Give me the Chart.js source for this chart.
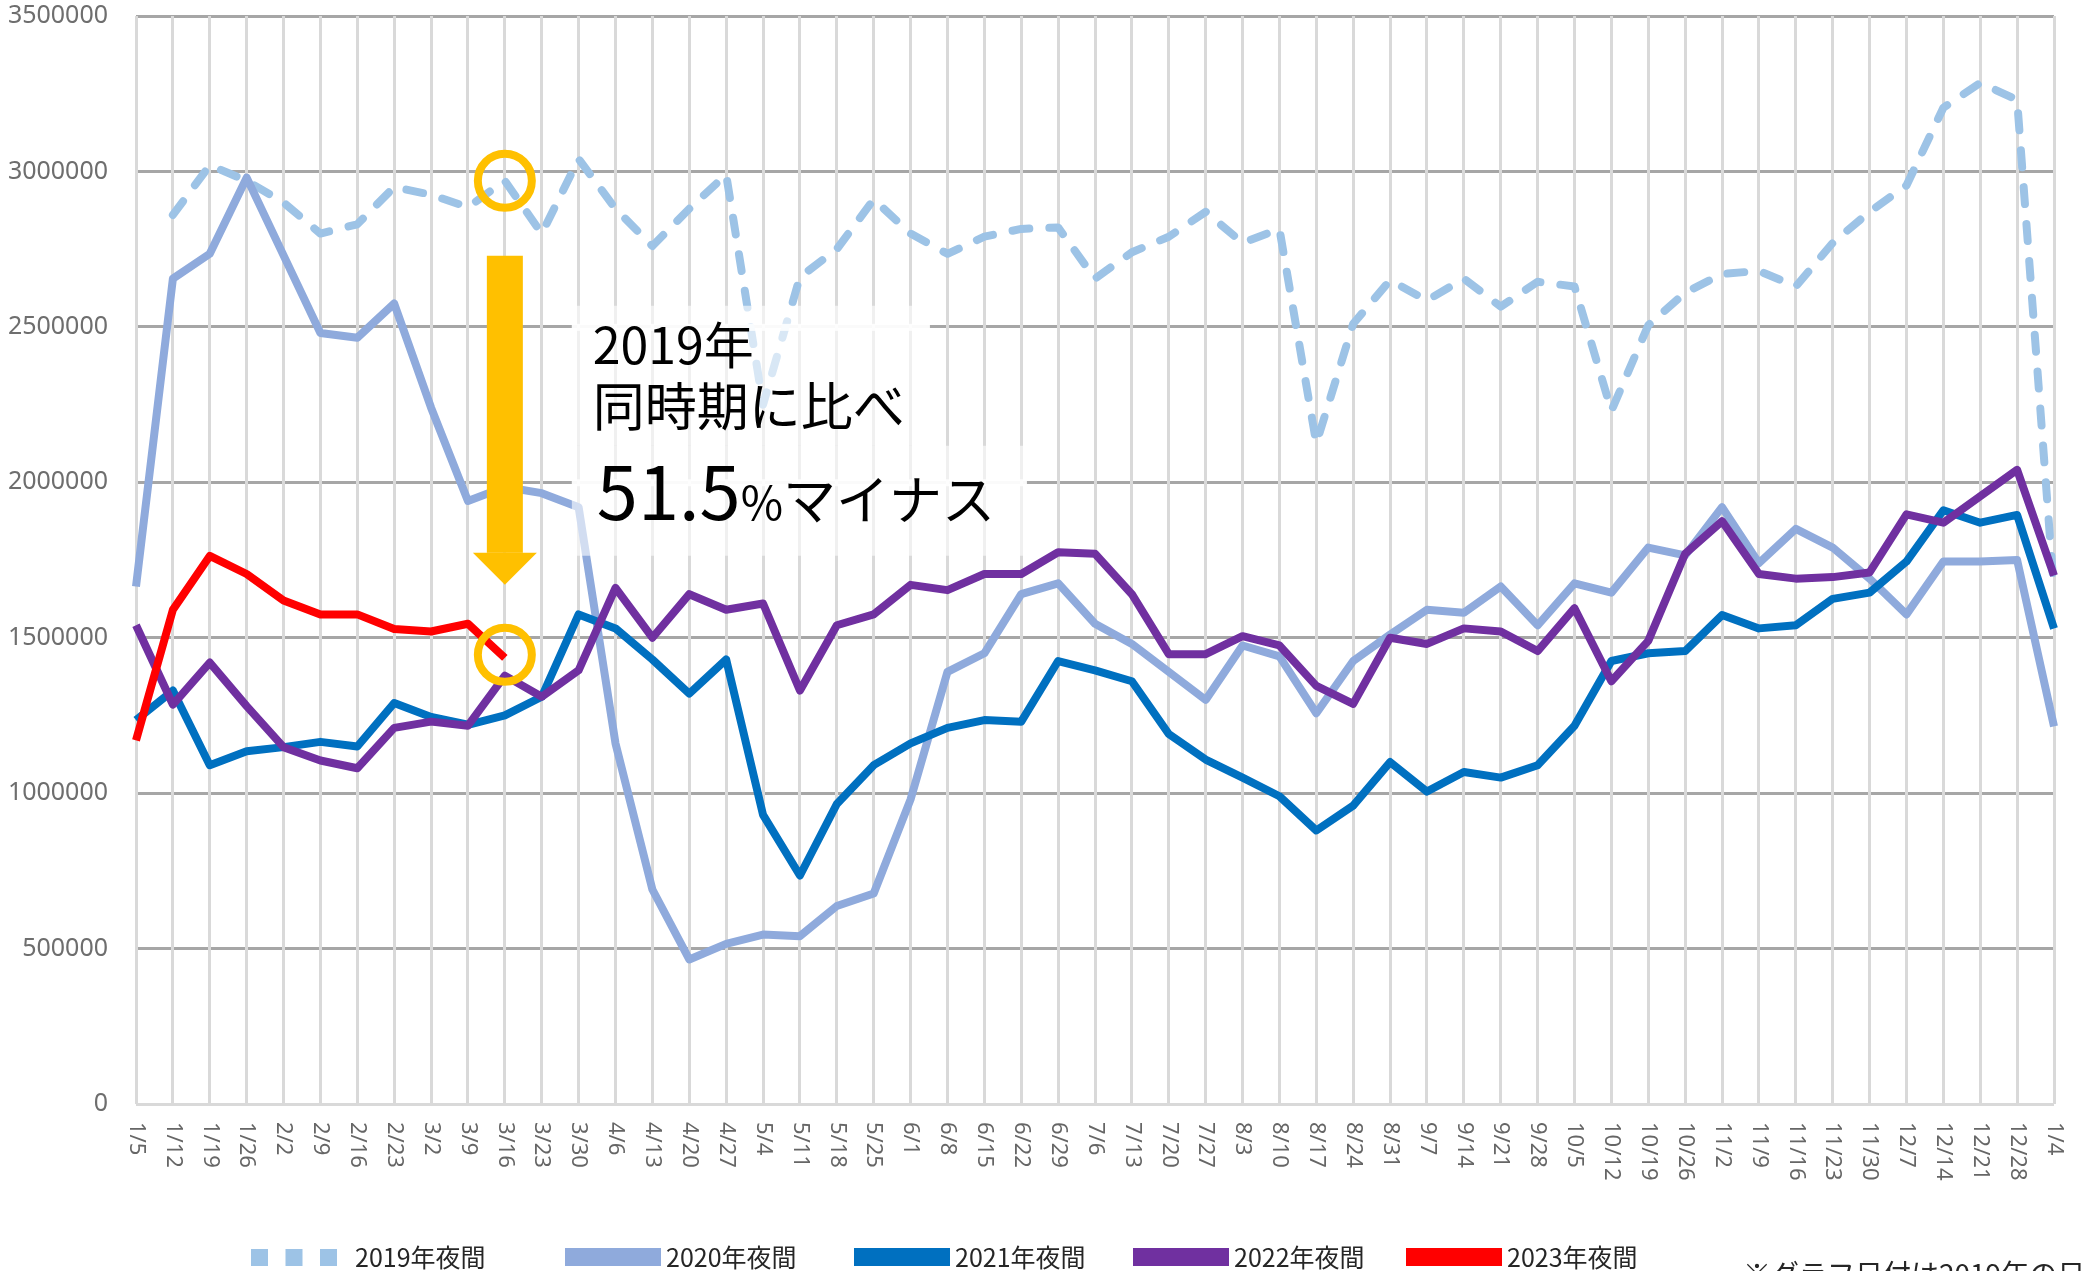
<!DOCTYPE html>
<html lang="ja">
<head>
<meta charset="utf-8">
<title>夜間人口の推移</title>
<script src="https://cdn.jsdelivr.net/npm/chart.js@4.4.1/dist/chart.umd.min.js"></script>
<style>
  html, body { margin: 0; padding: 0; background: #ffffff; }
  canvas { display: block; }
</style>
</head>
<body>
<canvas id="yakanChart" width="2087" height="1271"></canvas>
<script>
// 週ごとの日付（2019年の日付）
const labels = [
  "1/5", "1/12", "1/19", "1/26", "2/2", "2/9", "2/16", "2/23", "3/2", "3/9",
  "3/16", "3/23", "3/30", "4/6", "4/13", "4/20", "4/27", "5/4", "5/11", "5/18",
  "5/25", "6/1", "6/8", "6/15", "6/22", "6/29", "7/6", "7/13", "7/20", "7/27",
  "8/3", "8/10", "8/17", "8/24", "8/31", "9/7", "9/14", "9/21", "9/28", "10/5",
  "10/12", "10/19", "10/26", "11/2", "11/9", "11/16", "11/23", "11/30", "12/7", "12/14",
  "12/21", "12/28", "1/4"
];

const yakan2019 = [
  null, 2860000, 3020000, 2970000, 2900000, 2800000, 2830000, 2950000, 2925000, 2885000,
  2970000, 2800000, 3040000, 2880000, 2760000, 2880000, 2990000, 2250000, 2660000, 2750000,
  2910000, 2800000, 2735000, 2790000, 2815000, 2820000, 2655000, 2740000, 2790000, 2870000,
  2770000, 2815000, 2125000, 2510000, 2650000, 2585000, 2655000, 2565000, 2645000, 2630000,
  2230000, 2505000, 2610000, 2670000, 2680000, 2630000, 2770000, 2870000, 2955000, 3205000,
  3285000, 3230000, 1650000
];
const yakan2020 = [
  1665000, 2655000, 2735000, 2980000, 2730000, 2480000, 2465000, 2575000, 2240000, 1940000,
  1985000, 1965000, 1920000, 1160000, 690000, 465000, 515000, 545000, 540000, 637000,
  677000, 980000, 1390000, 1450000, 1640000, 1675000, 1545000, 1480000, 1390000, 1300000,
  1475000, 1440000, 1257000, 1425000, 1510000, 1590000, 1580000, 1665000, 1540000, 1675000,
  1645000, 1790000, 1765000, 1920000, 1740000, 1850000, 1790000, 1690000, 1575000, 1745000,
  1745000, 1750000, 1215000
];
const yakan2021 = [
  1235000, 1330000, 1090000, 1135000, 1148000, 1165000, 1150000, 1290000, 1245000, 1220000,
  1250000, 1310000, 1575000, 1530000, 1430000, 1320000, 1430000, 930000, 735000, 965000,
  1090000, 1160000, 1210000, 1235000, 1230000, 1425000, 1395000, 1360000, 1190000, 1108000,
  1050000, 990000, 880000, 960000, 1100000, 1005000, 1068000, 1050000, 1090000, 1217000,
  1425000, 1450000, 1457000, 1573000, 1530000, 1540000, 1625000, 1645000, 1745000, 1910000,
  1870000, 1895000, 1530000
];
const yakan2022 = [
  1540000, 1285000, 1420000, 1280000, 1148000, 1105000, 1080000, 1210000, 1230000, 1217000,
  1378000, 1310000, 1395000, 1660000, 1500000, 1640000, 1590000, 1610000, 1330000, 1540000,
  1575000, 1670000, 1653000, 1705000, 1705000, 1775000, 1770000, 1640000, 1447000, 1447000,
  1505000, 1475000, 1345000, 1287000, 1500000, 1480000, 1530000, 1520000, 1457000, 1595000,
  1360000, 1490000, 1770000, 1875000, 1705000, 1690000, 1695000, 1710000, 1897000, 1870000,
  1955000, 2040000, 1700000
];
const yakan2023 = [
  1170000, 1590000, 1763000, 1705000, 1620000, 1575000, 1575000, 1528000, 1520000, 1545000,
  1435000
];

// y軸の目盛り
const yTicks = [0, 500000, 1000000, 1500000, 2000000, 2500000, 3000000, 3500000];

const seriesNames = ["2019年夜間", "2020年夜間", "2021年夜間", "2022年夜間", "2023年夜間"];
const seriesColors = ["#9DC3E6", "#8FAADC", "#0070C0", "#7030A0", "#FF0000"];

// 注釈（3/16 の比較）
const markIndex = 10;
const markValues = [2970000, 1445000];
const noteText = "※グラフ日付は2019年の日付";

const FONT = "'Noto Sans', 'Noto Sans CJK JP', sans-serif";
const JFONT = "'Noto Sans CJK JP', 'Noto Sans', sans-serif";

function lineSet(i, data, extra) {
  return Object.assign({
    label: seriesNames[i],
    data: data,
    borderColor: seriesColors[i],
    backgroundColor: seriesColors[i],
    borderWidth: 8,
    pointRadius: 0,
    pointHoverRadius: 0,
    tension: 0,
    fill: false,
    borderJoinStyle: "round",
    order: 4 - i
  }, extra || {});
}

// 日付ラベル（縦書き）・凡例・注釈を描くプラグイン
const decoPlugin = {
  id: "deco",
  afterDraw(chart) {
    const ctx = chart.ctx;
    const xs = chart.scales.x;
    const ys = chart.scales.y;
    const area = chart.chartArea;

    // x軸ラベル（時計回りに90度回転）
    ctx.save();
    ctx.fillStyle = "#666666";
    ctx.font = "22px " + FONT;
    ctx.textAlign = "left";
    ctx.textBaseline = "middle";
    labels.forEach((lb, i) => {
      const x = xs.getPixelForTick(i);
      ctx.save();
      ctx.translate(x, area.bottom + 18);
      ctx.rotate(Math.PI / 2);
      ctx.fillText(lb, 0, 0);
      ctx.restore();
    });
    ctx.restore();

    // 注釈の白い背景
    const cx = xs.getPixelForValue(markIndex);
    const y1 = ys.getPixelForValue(markValues[0]);
    const y2 = ys.getPixelForValue(markValues[1]);
    ctx.save();
    ctx.fillStyle = "rgba(255,255,255,0.6)";
    ctx.fillRect(cx + 67, y1 + 125, 358, 140);
    ctx.fillRect(cx + 67, y1 + 265, 455, 110);
    ctx.fillStyle = "rgba(255,255,255,0.85)";
    ctx.fillRect(cx + 67, ys.getPixelForValue(2500000) - 3, 358, 7);
    ctx.fillRect(cx + 67, ys.getPixelForValue(2000000) - 3, 455, 7);
    ctx.restore();

    // 矢印
    ctx.save();
    ctx.fillStyle = "#FFC000";
    const shaftTop = y1 + 75;
    const headTop = y2 - 102;
    const tip = y2 - 70;
    ctx.fillRect(cx - 18, shaftTop, 36, headTop - shaftTop);
    ctx.beginPath();
    ctx.moveTo(cx - 32, headTop);
    ctx.lineTo(cx + 32, headTop);
    ctx.lineTo(cx, tip);
    ctx.closePath();
    ctx.fill();

    // 丸印
    ctx.strokeStyle = "#FFC000";
    ctx.lineWidth = 8;
    [y1, y2].forEach(y => {
      ctx.beginPath();
      ctx.arc(cx, y, 27, 0, Math.PI * 2);
      ctx.stroke();
    });
    ctx.restore();

    // 注釈テキスト
    ctx.save();
    ctx.fillStyle = "#000000";
    ctx.textAlign = "left";
    ctx.textBaseline = "alphabetic";
    const tx = cx + 88;
    ctx.font = "50px " + JFONT;
    ctx.fillText("2019年", tx, y1 + 183);
    ctx.font = "52px " + JFONT;
    ctx.fillText("同時期に比べ", tx, y1 + 245);
    ctx.font = "74px " + JFONT;
    ctx.fillText("51.5", tx + 4, y1 + 339);
    const w = ctx.measureText("51.5").width;
    ctx.font = "46px " + JFONT;
    ctx.fillText("%", tx + 4 + w, y1 + 339);
    const w2 = ctx.measureText("%").width;
    ctx.font = "53px " + JFONT;
    ctx.fillText("マイナス", tx + 4 + w + w2, y1 + 339);
    ctx.restore();

    // 凡例
    const legendX = [251, 565, 854, 1133, 1406];
    const ly = 1257;
    ctx.save();
    ctx.font = "25px " + JFONT;
    ctx.textBaseline = "middle";
    ctx.textAlign = "left";
    seriesNames.forEach((name, i) => {
      const x = legendX[i];
      ctx.fillStyle = seriesColors[i];
      if (i === 0) {
        for (let k = 0; k < 3; k++) ctx.fillRect(x + k * 34.5, ly - 8, 17, 17);
        ctx.fillStyle = "#262626";
        ctx.fillText(name, x + 104, ly);
      } else {
        ctx.fillRect(x, ly - 9, 96, 18);
        ctx.fillStyle = "#262626";
        ctx.fillText(name, x + 101, ly);
      }
    });
    ctx.font = "28px " + JFONT;
    ctx.fillStyle = "#262626";
    ctx.fillText(noteText, 1743, 1274);
    ctx.restore();
  }
};

new Chart(document.getElementById("yakanChart"), {
  type: "line",
  data: {
    labels: labels,
    datasets: [
      lineSet(0, yakan2019, { borderDash: [17, 20], borderCapStyle: "round" }),
      lineSet(1, yakan2020),
      lineSet(2, yakan2021),
      lineSet(3, yakan2022),
      lineSet(4, yakan2023)
    ]
  },
  options: {
    responsive: false,
    devicePixelRatio: 1,
    animation: false,
    layout: { padding: { top: 16, right: 33, left: 0, bottom: 0 } },
    plugins: {
      legend: { display: false },
      tooltip: { enabled: false }
    },
    scales: {
      x: {
        offset: false,
        afterFit: s => { s.height = 167; },
        grid: { color: "#D9D9D9", lineWidth: 3, drawTicks: false, z: -1 },
        border: { display: false },
        ticks: { display: false }
      },
      y: {
        min: yTicks[0],
        max: yTicks[yTicks.length - 1],
        afterFit: s => {
          s.width = 136;
          s.paddingTop = 0;
          s.paddingBottom = 0;
        },
        afterBuildTicks: s => { s.ticks = yTicks.map(v => ({ value: v })); },
        grid: {
          color: c => (c.tick && c.tick.value === 0 ? "#D9D9D9" : "#A6A6A6"),
          lineWidth: 3,
          drawTicks: false,
          z: -2
        },
        border: { display: false },
        ticks: {
          padding: 28,
          color: "#6E6E6E",
          font: { family: FONT, size: 25 },
          callback: v => String(v)
        }
      }
    }
  },
  plugins: [decoPlugin]
});
</script>
</body>
</html>
